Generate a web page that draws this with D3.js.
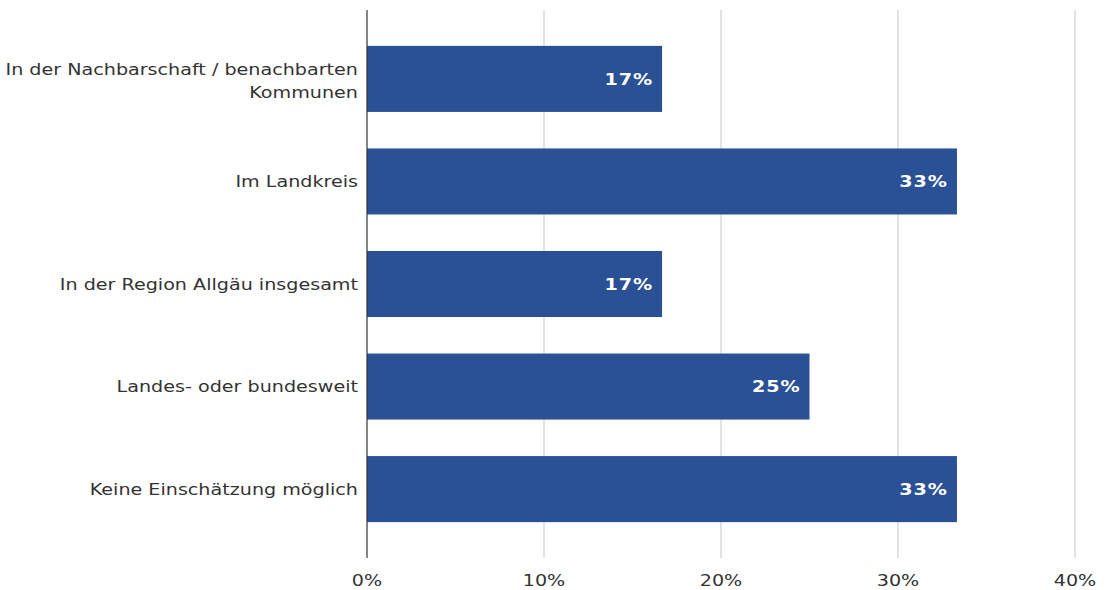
<!DOCTYPE html>
<html>
<head>
<meta charset="utf-8">
<script src="https://cdnjs.cloudflare.com/ajax/libs/d3/7.8.5/d3.min.js"></script>
<style>
  body { margin: 0; background: #fff; }
  text { font-family: "DejaVu Sans", Verdana, sans-serif; }
</style>
</head>
<body>
<div class="canvas"></div>
<script>
const categories = [
  'In der Nachbarschaft / benachbarten Kommunen',
  'Im Landkreis',
  'In der Region Allgäu insgesamt',
  'Landes- oder bundesweit',
  'Keine Einschätzung möglich'
];
const labelLines = [
  ['In der Nachbarschaft / benachbarten', 'Kommunen'],
  ['Im Landkreis'],
  ['In der Region Allgäu insgesamt'],
  ['Landes- oder bundesweit'],
  ['Keine Einschätzung möglich']
];
const values = [16.67, 33.33, 16.67, 25, 33.33];
const ticks = [0, 10, 20, 30, 40];

const width = 1107, height = 590;
const margin = { top: 10, right: 32, bottom: 32, left: 367 };
const graphWidth = width - margin.left - margin.right;
const graphHeight = height - margin.top - margin.bottom;
const stretch = 1.16; // glyphs in the source are wide

const svg = d3.select('.canvas').append('svg')
  .attr('width', width)
  .attr('height', height);

const graph = svg.append('g')
  .attr('transform', `translate(${margin.left}, ${margin.top})`);

const x = d3.scaleLinear().domain([0, 40]).range([0, graphWidth]);
const y = d3.scaleBand()
  .domain(categories)
  .range([0, graphHeight])
  .paddingInner(0.356)
  .paddingOuter(0.35);

// gridlines
graph.selectAll('line.grid').data(ticks.slice(1)).enter().append('line')
  .attr('class', 'grid')
  .attr('x1', d => x(d)).attr('x2', d => x(d))
  .attr('y1', 0).attr('y2', graphHeight)
  .attr('stroke', '#d9d9d9')
  .attr('stroke-width', 1.5);

// bars
graph.selectAll('rect').data(values).enter().append('rect')
  .attr('x', 0)
  .attr('y', (d, i) => y(categories[i]))
  .attr('width', d => x(d))
  .attr('height', y.bandwidth())
  .attr('fill', '#2a5096');

// value labels
graph.selectAll('text.val').data(values).enter().append('text')
  .attr('class', 'val')
  .attr('transform', (d, i) => `translate(${x(d) - 9}, ${y(categories[i]) + y.bandwidth() / 2}) scale(${stretch}, 1)`)
  .attr('dy', '0.36em')
  .attr('text-anchor', 'end')
  .attr('fill', '#fff')
  .attr('font-weight', 'bold')
  .attr('font-size', 16.5)
  .attr('letter-spacing', 0.8)
  .text(d => Math.round(d) + '%');

// y axis line
graph.append('line')
  .attr('x1', 0).attr('x2', 0)
  .attr('y1', 0).attr('y2', graphHeight)
  .attr('stroke', '#333')
  .attr('stroke-width', 1.2);

// category labels
const catLabels = graph.selectAll('text.cat').data(categories).enter().append('text')
  .attr('class', 'cat')
  .attr('text-anchor', 'end')
  .attr('fill', '#333')
  .attr('font-size', 16.5)
  .attr('transform', d => `translate(-9, ${y(d) + y.bandwidth() / 2}) scale(${stretch}, 1)`);

catLabels.each(function(d, i) {
  const lines = labelLines[i];
  const t = d3.select(this);
  lines.forEach((ln, j) => {
    t.append('tspan')
      .attr('x', 0)
      .attr('dy', j === 0 ? `${0.36 - (lines.length - 1) * 0.62}em` : '1.42em')
      .text(ln);
  });
});

// x tick labels
graph.selectAll('text.tick').data(ticks).enter().append('text')
  .attr('class', 'tick')
  .attr('transform', d => `translate(${x(d)}, ${graphHeight + 28}) scale(${stretch}, 1)`)
  .attr('text-anchor', 'middle')
  .attr('fill', '#333')
  .attr('font-size', 16.5)
  .text(d => d + '%');
</script>
</body>
</html>
